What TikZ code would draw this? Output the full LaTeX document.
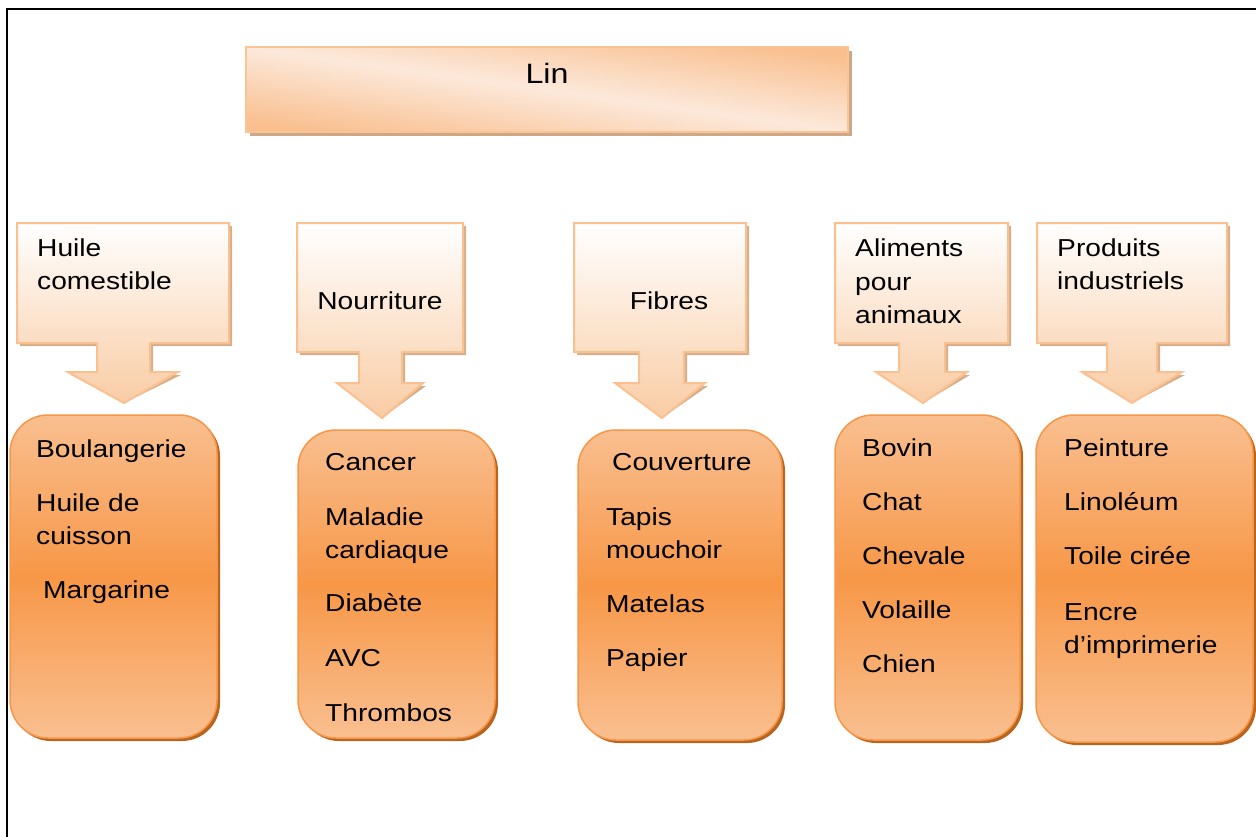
\documentclass[tikz,border=0pt]{standalone}
\usepackage{fontspec}
\setmainfont[FakeStretch=1.15]{Liberation Sans}
\usetikzlibrary{shadows}
\definecolor{LinLight}{HTML}{FCE9DB}
\definecolor{LinDark}{HTML}{F9BF8F}
\definecolor{LinBorder}{HTML}{F9C594}
\definecolor{LinShadow}{HTML}{CDA888}
\definecolor{CBorder}{HTML}{FAC08F}
\definecolor{CBottom}{HTML}{F9CCA4}
\definecolor{CShadow}{HTML}{D5AF8C}
\definecolor{ROl}{HTML}{F9BF90}
\definecolor{ROd}{HTML}{F79747}
\definecolor{RBorder}{HTML}{F79646}
\definecolor{RShadow}{HTML}{B8651F}
\newcommand\itm[4]{\node[txt] (#1) at (#2,#3) {#4};}
\newcommand\callshape[9]{%
  (#1,223) -- (#2,223) -- (#2,#3) -- (#5,#3) -- (#5,#6) -- (#8,#6) -- (#9) -- (#7,#6) -- (#4,#6) -- (#4,#3) -- (#1,#3) -- cycle}
\begin{document}
\begin{tikzpicture}[x=1pt,y=-1pt,
  txt/.style={inner sep=0pt, anchor=base west, font=\fontsize{24.5}{33}\selectfont},
  ctxt/.style={txt, anchor=base},
  linbox/.style={draw=LinBorder, line width=2, top color=LinDark, bottom color=LinDark, middle color=LinLight, shading angle=-8,
     general shadow={fill=LinShadow, shadow xshift=4pt, shadow yshift=-4pt}},
  cbox/.style={draw=CBorder, line width=2, top color=white, bottom color=CBottom},
  cshadow/.style={fill=CShadow, xshift=3pt, yshift=-3pt},
  rbox/.style={draw=RBorder, line width=1.5, rounded corners=38, top color=ROl, bottom color=ROl, middle color=ROd,
     general shadow={fill=RShadow, shadow xshift=3pt, shadow yshift=-3pt}}]
\useasboundingbox (0,0) rectangle (1256,836);
% frame
\coordinate (fa) at (1256,9);
\coordinate (fb) at (7,9);
\coordinate (fc) at (7,836);
\draw[line width=2.5, line cap=rect] (fa) -- (fb) -- (fc);
% title
\node[linbox, minimum width=602, minimum height=85, inner sep=0] (lin) at (547,89.5) {};
\node[txt, anchor=base, font=\fontsize{28}{34}\selectfont] (lint) at (547,83) {Lin};
% callouts
\coordinate (t1) at (124,403);
\coordinate (t2) at (382,418);
\coordinate (t3) at (662,418);
\coordinate (t4) at (923,403);
\coordinate (t5) at (1132,403);
\fill[cshadow] \callshape{17}{229}{343}{97}{150}{372}{68}{178}{t1};
\shade[cbox] \callshape{17}{229}{343}{97}{150}{372}{68}{178}{t1};
\fill[cshadow] \callshape{297}{463}{352}{359}{402}{383}{337}{423}{t2};
\shade[cbox] \callshape{297}{463}{352}{359}{402}{383}{337}{423}{t2};
\fill[cshadow] \callshape{574}{746}{352}{639}{684}{383}{615}{705}{t3};
\shade[cbox] \callshape{574}{746}{352}{639}{684}{383}{615}{705}{t3};
\fill[cshadow] \callshape{835}{1008}{343}{899}{945}{372}{876}{967}{t4};
\shade[cbox] \callshape{835}{1008}{343}{899}{945}{372}{876}{967}{t4};
\fill[cshadow] \callshape{1037}{1227}{343}{1107}{1157}{372}{1082}{1182}{t5};
\shade[cbox] \callshape{1037}{1227}{343}{1107}{1157}{372}{1082}{1182}{t5};
% callout texts
\itm{c1a}{37}{256}{Huile}
\itm{c1b}{37}{289}{comestible}
\node[ctxt] (c2) at (380,309) {Nourriture};
\node[ctxt] (c3) at (669,309) {Fibres};
\itm{c4a}{855}{256}{Aliments}
\itm{c4b}{855}{290}{pour}
\itm{c4c}{855}{323}{animaux}
\itm{c5a}{1057}{256}{Produits}
\itm{c5b}{1057}{289}{industriels}
% rounded boxes
\node[rbox, minimum width=207, minimum height=323, inner sep=0] (r1) at (113.5,576.5) {};
\node[rbox, minimum width=197, minimum height=308, inner sep=0] (r2) at (396.5,584) {};
\node[rbox, minimum width=204, minimum height=310, inner sep=0] (r3) at (680,585) {};
\node[rbox, minimum width=185, minimum height=325, inner sep=0] (r4) at (927.5,577.5) {};
\node[rbox, minimum width=217, minimum height=327, inner sep=0] (r5) at (1144.5,578.5) {};
% box 1
\itm{a1}{36}{457}{Boulangerie}
\itm{a2}{36}{511}{Huile de}
\itm{a3}{36}{544}{cuisson}
\itm{a4}{43}{598}{Margarine}
% box 2
\itm{b1}{325}{470}{Cancer}
\itm{b2}{325}{525}{Maladie}
\itm{b3}{325}{558}{cardiaque}
\itm{b4}{325}{611}{Diabète}
\itm{b5}{325}{666}{AVC}
\itm{b6}{325}{721}{Thrombos}
% box 3
\itm{d1}{612}{470}{Couverture}
\itm{d2}{606}{525}{Tapis}
\itm{d3}{606}{558}{mouchoir}
\itm{d4}{606}{612}{Matelas}
\itm{d5}{606}{666}{Papier}
% box 4
\itm{e1}{862}{456}{Bovin}
\itm{e2}{862}{510}{Chat}
\itm{e3}{862}{564}{Chevale}
\itm{e4}{862}{618}{Volaille}
\itm{e5}{862}{672}{Chien}
% box 5
\itm{f1}{1064}{456}{Peinture}
\itm{f2}{1064}{510}{Linoléum}
\itm{f3}{1064}{564}{Toile cirée}
\itm{f4}{1064}{620}{Encre}
\itm{f5}{1064}{653}{d’imprimerie}
\end{tikzpicture}
\end{document}
